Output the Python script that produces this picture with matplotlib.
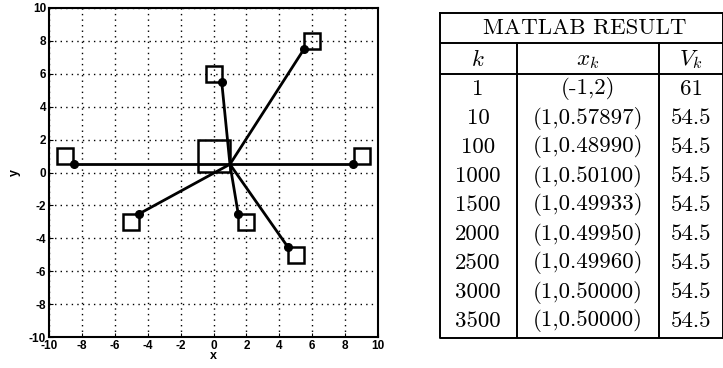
import numpy as np
import matplotlib.pyplot as plt

plt.rcParams['mathtext.fontset'] = 'cm'

# anchor points (squares) and where each spring ends (circles)
anchor_x = [-9, 9, -5, 2, 5, 6, 0]
anchor_y = [1, 1, -3, -3, -5, 8, 6]
end_x = [-8.5, 8.5, -4.5, 1.5, 4.5, 5.5, 0.5]
end_y = [0.5, 0.5, -2.5, -2.5, -4.5, 7.5, 5.5]
start_xy = (0, 1)
opt_xy = (1, 0.5)

# iteration table
k_vals = ['1', '10', '100', '1000', '1500', '2000', '2500', '3000', '3500']
xk_vals = ['(-1,2)', '(1,0.57897)', '(1,0.48990)', '(1,0.50100)', '(1,0.49933)',
           '(1,0.49950)', '(1,0.49960)', '(1,0.50000)', '(1,0.50000)']
vk_vals = ['61', '54.5', '54.5', '54.5', '54.5', '54.5', '54.5', '54.5', '54.5']

W, H = 723, 368
fig = plt.figure(figsize=(W / 100, H / 100), dpi=100)

ax = fig.add_axes([49 / W, 1 - 337 / H, 329 / W, 329 / H])
for ax_, ay_, ex, ey in zip(anchor_x, anchor_y, end_x, end_y):
    ax.plot([opt_xy[0], ex], [opt_xy[1], ey], color='black', lw=2, zorder=3)
ax.plot(anchor_x, anchor_y, 's', ms=11.5, mfc='none', mec='black', mew=1.8, zorder=4)
ax.plot(end_x, end_y, 'o', ms=5.5, color='black', zorder=5)
ax.plot([start_xy[0]], [start_xy[1]], 's', ms=23.5, mfc='none', mec='black', mew=1.8, zorder=4)

ax.set_xlim(-10, 10)
ax.set_ylim(-10, 10)
ticks = np.arange(-10, 11, 2)
ax.set_xticks(ticks)
ax.set_yticks(ticks)
ax.set_xticklabels([str(t) for t in ticks])
ax.set_yticklabels([str(t) for t in ticks])
ax.grid(True, color='black', linestyle=(0, (1, 3)), lw=1)
ax.tick_params(direction='in', length=3, labelsize=8.5, pad=2)
for lab in ax.get_xticklabels() + ax.get_yticklabels():
    lab.set_fontweight('bold')
    lab.set_fontfamily('Liberation Sans')
ax.set_xlabel('x', fontsize=9, fontweight='bold', family='Liberation Sans', labelpad=-1)
ax.set_ylabel('y', fontsize=9, fontweight='bold', family='Liberation Sans', labelpad=6)
for s in ax.spines.values():
    s.set_linewidth(1.5)

# table drawn in pixel coordinates
tx0, tx1, ty0, ty1 = 440, 723, 13, 338
tab = fig.add_axes([tx0 / W, 1 - ty1 / H, (tx1 - tx0) / W, (ty1 - ty0) / H])
tab.set_xlim(tx0, tx1)
tab.set_ylim(ty1, ty0)
tab.axis('off')

lw = 1.4
tab.plot([tx0, tx1, tx1, tx0, tx0], [ty0, ty0, ty1, ty1, ty0], color='black', lw=lw,
         clip_on=False)
tab.plot([tx0, tx1], [43, 43], color='black', lw=lw)
tab.plot([tx0, tx1], [74, 74], color='black', lw=lw)
tab.plot([517, 517], [43, ty1], color='black', lw=lw)
tab.plot([659, 659], [43, ty1], color='black', lw=lw)

fs = 16.5
cm = dict(ha='center', va='center', fontsize=fs, family='cmr10')
tab.text(585, 28, 'MATLAB RESULT', **cm)
tab.text(478, 59, r'$k$', ha='center', va='center', fontsize=fs)
tab.text(588, 59, r'$x_k$', ha='center', va='center', fontsize=fs)
tab.text(691, 59, r'$V_k$', ha='center', va='center', fontsize=fs)

row_y = 89 + 29 * np.arange(len(k_vals))
for y, k, xk, vk in zip(row_y, k_vals, xk_vals, vk_vals):
    tab.text(478, y, k, **cm)
    tab.text(588, y, xk, **cm)
    tab.text(691, y, vk, **cm)

fig.savefig('out.png', dpi=100)
